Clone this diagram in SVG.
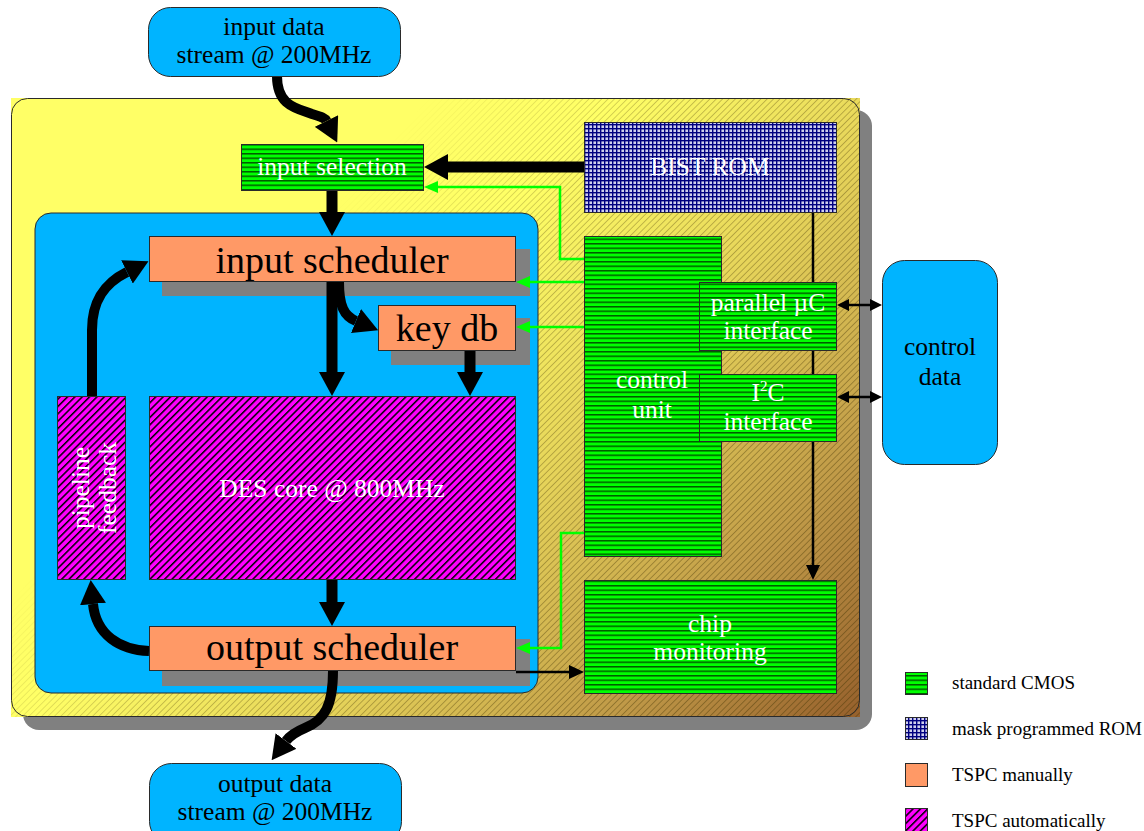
<svg xmlns="http://www.w3.org/2000/svg" width="1144" height="831" viewBox="0 0 1144 831">
<defs>
<style>
.t{font-family:"Liberation Serif","Times New Roman",serif;text-anchor:middle}
.w{fill:#fff;font-size:25.5px}
.k{fill:#000;font-size:25.5px}
.big{fill:#000;font-size:38px}
.lg{font-family:"Liberation Serif","Times New Roman",serif;font-size:19px;fill:#000}
.ln{stroke:#2a2a2a;stroke-width:1}
.cmos{fill:url(#cmos)}
.rom{fill:url(#rom)}
.man{fill:#ff9966}
.auto{fill:url(#tspc)}
.io{fill:#00b4ff;stroke:#2a2a2a;stroke-width:1}
.thick{fill:none;stroke:#000;stroke-width:11;marker-end:url(#ah)}
.curve{fill:none;stroke:#000;stroke-width:10;marker-end:url(#ah)}
.thin{fill:none;stroke:#000;stroke-width:2.5;marker-end:url(#as)}
.both{fill:none;stroke:#000;stroke-width:2.5;marker-start:url(#ad);marker-end:url(#ad)}
.grn{fill:none;stroke:#00ff00;stroke-width:2.5;marker-end:url(#ag)}
</style>
<!-- block fill patterns -->
<pattern id="cmos" width="8" height="4.5" patternUnits="userSpaceOnUse">
<rect width="8" height="4.5" fill="#00ff00"/>
<rect width="8" height="1.5" fill="#005a00"/>
</pattern>
<pattern id="rom" width="4" height="4" patternUnits="userSpaceOnUse">
<rect width="4" height="4" fill="#d0d0ee"/>
<rect width="4" height="1.4" fill="#000080"/>
<rect width="1.4" height="4" fill="#000080"/>
</pattern>
<pattern id="tspc" width="5.2" height="5.2" patternUnits="userSpaceOnUse" patternTransform="rotate(45)">
<rect width="5.2" height="5.2" fill="#ff00ff"/>
<rect width="1.5" height="5.2" fill="#000"/>
</pattern>
<pattern id="fine" width="4.5" height="4.5" patternUnits="userSpaceOnUse" patternTransform="rotate(45)">
<rect width="0.8" height="4.5" fill="#4a3a08"/>
</pattern>
<!-- chip background shading -->
<linearGradient id="chipGrad" gradientUnits="userSpaceOnUse" x1="420" y1="300" x2="860" y2="717">
<stop offset="0" stop-color="#ffff66"/>
<stop offset="0.35" stop-color="#e6d45a"/>
<stop offset="0.7" stop-color="#c09a48"/>
<stop offset="1" stop-color="#96602c"/>
</linearGradient>
<linearGradient id="hatchFade" gradientUnits="userSpaceOnUse" x1="300" y1="250" x2="860" y2="717">
<stop offset="0" stop-color="#000"/>
<stop offset="0.25" stop-color="#555"/>
<stop offset="1" stop-color="#888"/>
</linearGradient>
<mask id="hm"><rect x="11" y="98" width="849" height="619" fill="url(#hatchFade)"/></mask>
<!-- arrowheads -->
<marker id="ah" markerUnits="userSpaceOnUse" markerWidth="24" markerHeight="26" refX="0" refY="13" orient="auto">
<path d="M0,0 L24,13 L0,26 z" fill="#000"/>
</marker>
<marker id="as" markerUnits="userSpaceOnUse" markerWidth="15" markerHeight="14" refX="0" refY="7" orient="auto">
<path d="M0,0 L15,7 L0,14 z" fill="#000"/>
</marker>
<marker id="ad" markerUnits="userSpaceOnUse" markerWidth="12" markerHeight="12" refX="0" refY="6" orient="auto-start-reverse">
<path d="M0,0 L12,6 L0,12 z" fill="#000"/>
</marker>
<marker id="ag" markerUnits="userSpaceOnUse" markerWidth="14" markerHeight="12" refX="0" refY="6" orient="auto">
<path d="M0,0 L14,6 L0,12 z" fill="#00ff00"/>
</marker>
</defs>

<rect width="1144" height="831" fill="#fff"/>

<!-- chip die -->
<g id="chip">
<rect x="23" y="110" width="849" height="620" rx="16" fill="#808080"/>
<rect x="11" y="98" width="849" height="619" fill="url(#chipGrad)"/>
<rect x="11" y="98" width="849" height="619" fill="url(#fine)" mask="url(#hm)"/>
<rect x="11.5" y="98.5" width="848" height="618" rx="16" fill="none" class="ln"/>
</g>

<!-- high speed domain -->
<g id="tspc-domain">
<rect x="35" y="213" width="503" height="480" rx="16" class="io"/>
</g>

<!-- drop shadows of the scheduler blocks -->
<g id="shadows" fill="#808080">
<rect x="162" y="249" width="368" height="47"/>
<rect x="391" y="318" width="139" height="47"/>
<rect x="162" y="639" width="368" height="47"/>
</g>

<g id="connectors">
<!-- data path -->
<path class="curve" d="M277,76 C277,105 295,108 312,114 C322,117 325,118 326.5,121"/>
<path class="thick" d="M332,191 L332,212"/>
<path class="thick" d="M584,167 L448,167"/>
<path class="thick" d="M332,282 L332,372"/>
<path class="curve" d="M339,282 C339,306 344,316 356,321"/>
<path class="thick" d="M470,351 L470,372"/>
<path class="thick" d="M332,580 L332,602"/>
<path class="curve" d="M333,671 C333,705 325,720 305,728 C293,733 289,737 286,741"/>
<path class="curve" d="M149,651 C120,650 96,635 93,604"/>
<path class="curve" d="M92,396 L92,330 C92,300 105,283 127,272"/>
<!-- control path -->
<path class="thin" d="M813,213 L813,565"/>
<path class="both" d="M849,305 L870,305"/>
<path class="both" d="M849,397 L870,397"/>
<path class="thin" d="M516,672 L569,672"/>
<path class="grn" d="M584,259 L560,259 L560,187 L438,187"/>
<path class="grn" d="M584,282 L530,282"/>
<path class="grn" d="M584,327 L530,327"/>
<path class="grn" d="M584,533 L561,533 L561,648 L530,648"/>
</g>

<g id="input-stream">
<rect x="148.5" y="7.5" width="252" height="69" rx="22" class="io"/>
<text class="t k" x="274" y="35">input data</text>
<text class="t k" x="274" y="63">stream @ 200MHz</text>
</g>

<g id="output-stream">
<rect x="149.5" y="763.5" width="252" height="80" rx="22" class="io"/>
<text class="t k" x="275" y="792">output data</text>
<text class="t k" x="275" y="820">stream @ 200MHz</text>
</g>

<g id="input-selection">
<rect x="241.5" y="144.5" width="182" height="46" class="cmos ln"/>
<text class="t w" x="332" y="175">input selection</text>
</g>

<g id="bist-rom">
<rect x="584.5" y="122.5" width="252" height="90" class="rom ln"/>
<text class="t w" x="710" y="175">BIST ROM</text>
</g>

<g id="input-scheduler">
<rect x="149.5" y="236.5" width="366" height="45" class="man ln"/>
<text class="t big" x="332" y="273">input scheduler</text>
</g>

<g id="key-db">
<rect x="378.5" y="305.5" width="137" height="45" class="man ln"/>
<text class="t big" x="447" y="341">key db</text>
</g>

<g id="des-core">
<rect x="149.5" y="396.5" width="366" height="183" class="auto ln"/>
<text class="t w" x="332" y="497">DES core @ 800MHz</text>
</g>

<g id="pipeline-feedback">
<rect x="57.5" y="396.5" width="68" height="183" class="auto ln"/>
<text class="t w" transform="translate(89,488) rotate(-90)" x="0" y="0">pipeline</text>
<text class="t w" transform="translate(116,488) rotate(-90)" x="0" y="0">feedback</text>
</g>

<g id="output-scheduler">
<rect x="149.5" y="626.5" width="366" height="44" class="man ln"/>
<text class="t big" x="332" y="660">output scheduler</text>
</g>

<g id="control-unit">
<rect x="584.5" y="236.5" width="137" height="320" class="cmos ln"/>
<text class="t w" x="652" y="388">control</text>
<text class="t w" x="652" y="418">unit</text>
</g>

<g id="parallel-uc-interface">
<rect x="699.5" y="282.5" width="137" height="68" class="cmos ln"/>
<text class="t w" x="768" y="311">parallel µC</text>
<text class="t w" x="768" y="339">interface</text>
</g>

<g id="i2c-interface">
<rect x="699.5" y="374.5" width="137" height="67" class="cmos ln"/>
<text class="t w" x="768" y="401">I<tspan font-size="15" dy="-10">2</tspan><tspan dy="10">C</tspan></text>
<text class="t w" x="768" y="430">interface</text>
</g>

<g id="chip-monitoring">
<rect x="584.5" y="580.5" width="252" height="113" class="cmos ln"/>
<text class="t w" x="710" y="632">chip</text>
<text class="t w" x="710" y="660">monitoring</text>
</g>

<g id="control-data">
<rect x="882.5" y="260.5" width="115" height="204" rx="22" class="io"/>
<text class="t k" x="940" y="355">control</text>
<text class="t k" x="940" y="385">data</text>
</g>

<g id="legend">
<rect x="905.5" y="672.5" width="22" height="22" class="cmos ln"/>
<text class="lg" x="952" y="689">standard CMOS</text>
<rect x="905.5" y="717.5" width="22" height="22" class="rom ln"/>
<text class="lg" x="952" y="735">mask programmed ROM</text>
<rect x="905.5" y="763.5" width="22" height="23" class="man ln"/>
<text class="lg" x="952" y="781">TSPC manually</text>
<rect x="905.5" y="808.5" width="22" height="24" class="auto ln"/>
<text class="lg" x="952" y="827">TSPC automatically</text>
</g>
</svg>
